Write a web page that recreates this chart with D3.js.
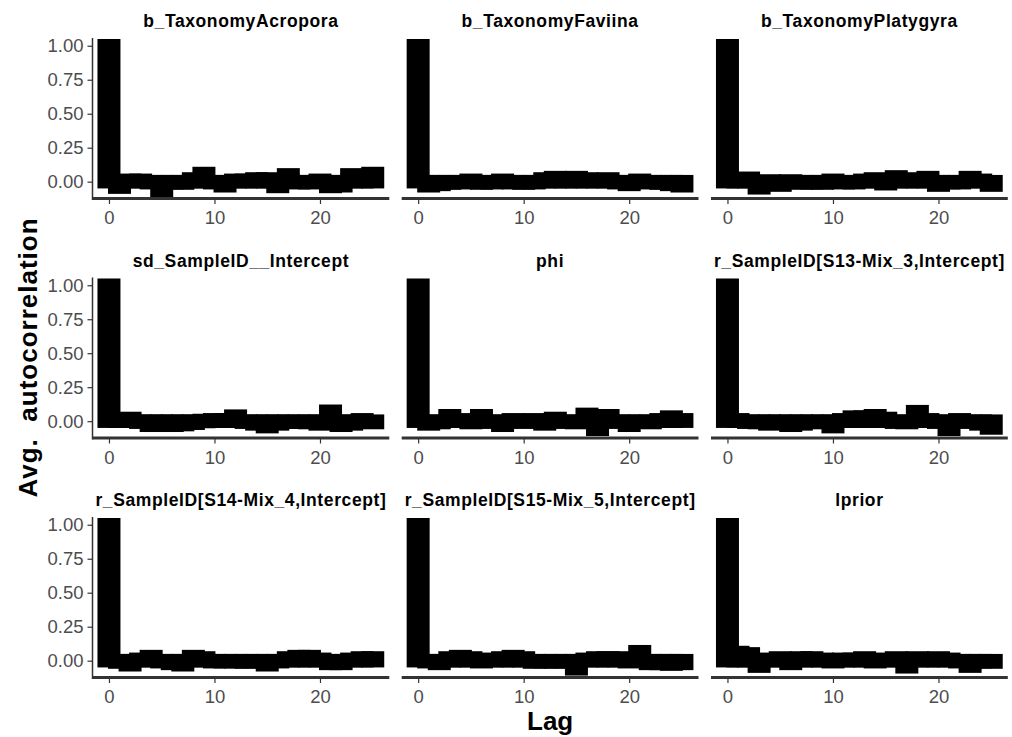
<!DOCTYPE html>
<html>
<head>
<meta charset="utf-8">
<script src="https://cdn.jsdelivr.net/npm/d3@7"></script>
<style>
  body { margin: 0; background: #fff; }
  text { font-family: "Liberation Sans", Arial, Helvetica, sans-serif; }
</style>
</head>
<body>
<div id="chart"></div>
<script>
// lags shown on the x axis
const lags = [0, 1, 2, 3, 4, 5, 6, 7, 8, 9, 10, 11, 12, 13, 14, 15, 16, 17, 18, 19, 20, 21, 22, 23, 24, 25];

// panel titles, in facet order
const panelNames = [
    "b_TaxonomyAcropora", "b_TaxonomyFaviina", "b_TaxonomyPlatygyra",
    "sd_SampleID__Intercept", "phi", "r_SampleID[S13-Mix_3,Intercept]",
    "r_SampleID[S14-Mix_4,Intercept]", "r_SampleID[S15-Mix_5,Intercept]", "lprior"
];

// average autocorrelation per lag
const acfAcropora = [1.00, -0.04, 0.01, 0.01, 0.00, -0.07, 0.00, -0.01, 0.02, 0.06, 0.00, -0.03, 0.01, 0.01, 0.02, 0.02, -0.035, 0.05, 0.00, 0.00, 0.01, -0.035, -0.03, 0.05, 0.04, 0.06];
const acfFaviina = [1.00, -0.03, -0.02, -0.01, 0.00, 0.01, -0.01, 0.00, 0.01, 0.00, -0.01, 0.00, 0.02, 0.03, 0.02, 0.03, 0.02, 0.01, 0.02, 0.00, -0.02, 0.01, 0.00, -0.01, -0.02, -0.03];
const acfPlatygyra = [1.00, 0.02, 0.025, -0.045, 0.005, -0.025, 0.005, -0.01, 0.00, -0.01, 0.01, 0.00, 0.00, 0.01, 0.02, -0.015, 0.035, 0.02, 0.01, 0.03, -0.025, 0.00, 0.00, 0.03, 0.01, -0.025];
const acfSd = [1.00, 0.01, 0.02, 0.00, -0.03, -0.03, -0.03, -0.025, -0.015, 0.005, 0.01, 0.01, 0.037, 0.00, -0.02, -0.04, -0.02, -0.005, 0.00, -0.01, -0.02, 0.073, -0.03, -0.02, 0.01, -0.01];
const acfPhi = [1.00, -0.02, -0.01, 0.04, 0.01, -0.01, 0.04, 0.00, -0.03, 0.01, 0.00, 0.01, -0.02, 0.02, 0.00, -0.01, 0.05, -0.06, 0.04, 0.00, -0.03, 0.00, -0.01, 0.01, 0.03, 0.01];
const acfS13 = [1.00, 0.01, 0.00, -0.01, -0.02, 0.00, -0.03, -0.02, 0.00, -0.01, -0.04, 0.01, 0.03, 0.03, 0.04, 0.02, 0.00, -0.01, 0.07, 0.01, 0.00, -0.06, 0.01, 0.00, -0.02, -0.05];
const acfS14 = [1.00, -0.01, -0.03, 0.01, 0.03, 0.00, -0.02, -0.03, 0.03, 0.02, 0.00, 0.00, 0.00, -0.01, 0.00, -0.03, 0.00, 0.02, 0.03, 0.03, 0.01, -0.02, -0.02, 0.01, 0.02, 0.02];
const acfS15 = [1.00, 0.00, -0.02, 0.02, 0.03, 0.02, -0.005, 0.01, 0.02, 0.03, 0.02, -0.01, 0.00, -0.01, 0.00, -0.06, 0.01, 0.02, 0.02, 0.02, -0.005, 0.066, -0.02, -0.02, -0.025, -0.02];
const acfLprior = [1.00, 0.06, 0.05, -0.04, 0.01, 0.02, -0.02, 0.02, 0.02, 0.01, 0.00, 0.01, 0.01, 0.02, 0.00, 0.01, 0.02, -0.045, 0.02, 0.01, 0.02, 0.01, 0.00, -0.04, 0.00, -0.01];

const panelValues = [acfAcropora, acfFaviina, acfPlatygyra, acfSd, acfPhi, acfS13, acfS14, acfS15, acfLprior];

const xTicks = [0, 10, 20];
const yTicks = [0, 0.25, 0.5, 0.75, 1];

// layout
const width = 1012, height = 737;
const colX = [92.5, 401.7, 711];
const rowY = [38, 277.5, 517];
const panelW = 296.8, panelH = 160;

const svg = d3.select("#chart")
    .append("svg")
    .attr("width", width)
    .attr("height", height);

// shared scales (panel-local coordinates)
const x = d3.scaleLinear().domain([-1.56, 26.57]).range([0, panelW]);
const y = d3.scaleLinear().domain([-0.12, 1.057]).range([panelH, 0]);

const barHalf = 0.45;

panelNames.forEach(function (name, i) {
    const col = i % 3, row = Math.floor(i / 3);
    const g = svg.append("g")
        .attr("transform", `translate(${colX[col]}, ${rowY[row]})`);

    const data = lags.map(function (l, j) { return {lag: l, value: panelValues[i][j]}; });

    // bars with a heavy outline, like the original
    g.selectAll("rect.bar")
        .data(data)
        .enter()
        .append("rect")
        .attr("class", "bar")
        .attr("x", function (d) { return x(d.lag - barHalf); })
        .attr("width", function (d) { return x(d.lag + barHalf) - x(d.lag - barHalf); })
        .attr("y", function (d) { return y(Math.max(0, d.value)); })
        .attr("height", function (d) { return Math.max(1, Math.abs(y(d.value) - y(0))); })
        .attr("fill", "#000")
        .attr("stroke", "#000")
        .attr("stroke-width", 13.5)
        .attr("stroke-linejoin", "miter");

    // x axis (every panel)
    const xAxis = g.append("g")
        .attr("transform", `translate(0, ${panelH + 1})`)
        .call(d3.axisBottom(x).tickValues(xTicks).tickSize(5).tickPadding(7));
    xAxis.select(".domain").remove();
    xAxis.selectAll(".tick line").attr("stroke", "#333").attr("stroke-width", 1.2);
    xAxis.selectAll(".tick text")
        .attr("fill", "#4d4d4d")
        .style("font-size", "18.5px");

    g.append("line")
        .attr("x1", 0).attr("x2", panelW)
        .attr("y1", panelH + 0.5).attr("y2", panelH + 0.5)
        .attr("stroke", "#333")
        .attr("stroke-width", 3);

    // y axis only on the left column
    if (col === 0) {
        const yAxis = g.append("g")
            .call(d3.axisLeft(y).tickValues(yTicks).tickFormat(d3.format(".2f")).tickSize(5).tickPadding(4));
        yAxis.select(".domain").remove();
        yAxis.selectAll(".tick line").attr("stroke", "#333").attr("stroke-width", 1.2);
        yAxis.selectAll(".tick text")
            .attr("fill", "#4d4d4d")
            .style("font-size", "18.5px");
        g.append("line")
            .attr("x1", 0).attr("x2", 0)
            .attr("y1", 0).attr("y2", panelH + 2)
            .attr("stroke", "#333")
            .attr("stroke-width", 1.5);
    }

    // panel title
    g.append("text")
        .attr("x", panelW / 2)
        .attr("y", -11)
        .attr("text-anchor", "middle")
        .style("font-size", "17.5px")
        .style("font-weight", "bold")
        .style("letter-spacing", "0.6px")
        .attr("fill", "#000")
        .text(name);
});

// axis titles
svg.append("text")
    .attr("x", (colX[0] + colX[2] + panelW) / 2)
    .attr("y", 730)
    .attr("text-anchor", "middle")
    .style("font-size", "26px")
    .style("font-weight", "bold")
    .text("Lag");

svg.append("text")
    .attr("transform", `translate(37, ${(rowY[0] + rowY[2] + panelH) / 2}) rotate(-90)`)
    .attr("text-anchor", "middle")
    .style("font-size", "26px")
    .style("font-weight", "bold")
    .style("letter-spacing", "1px")
    .style("white-space", "pre")
    .text("Avg.  autocorrelation");
</script>
</body>
</html>
